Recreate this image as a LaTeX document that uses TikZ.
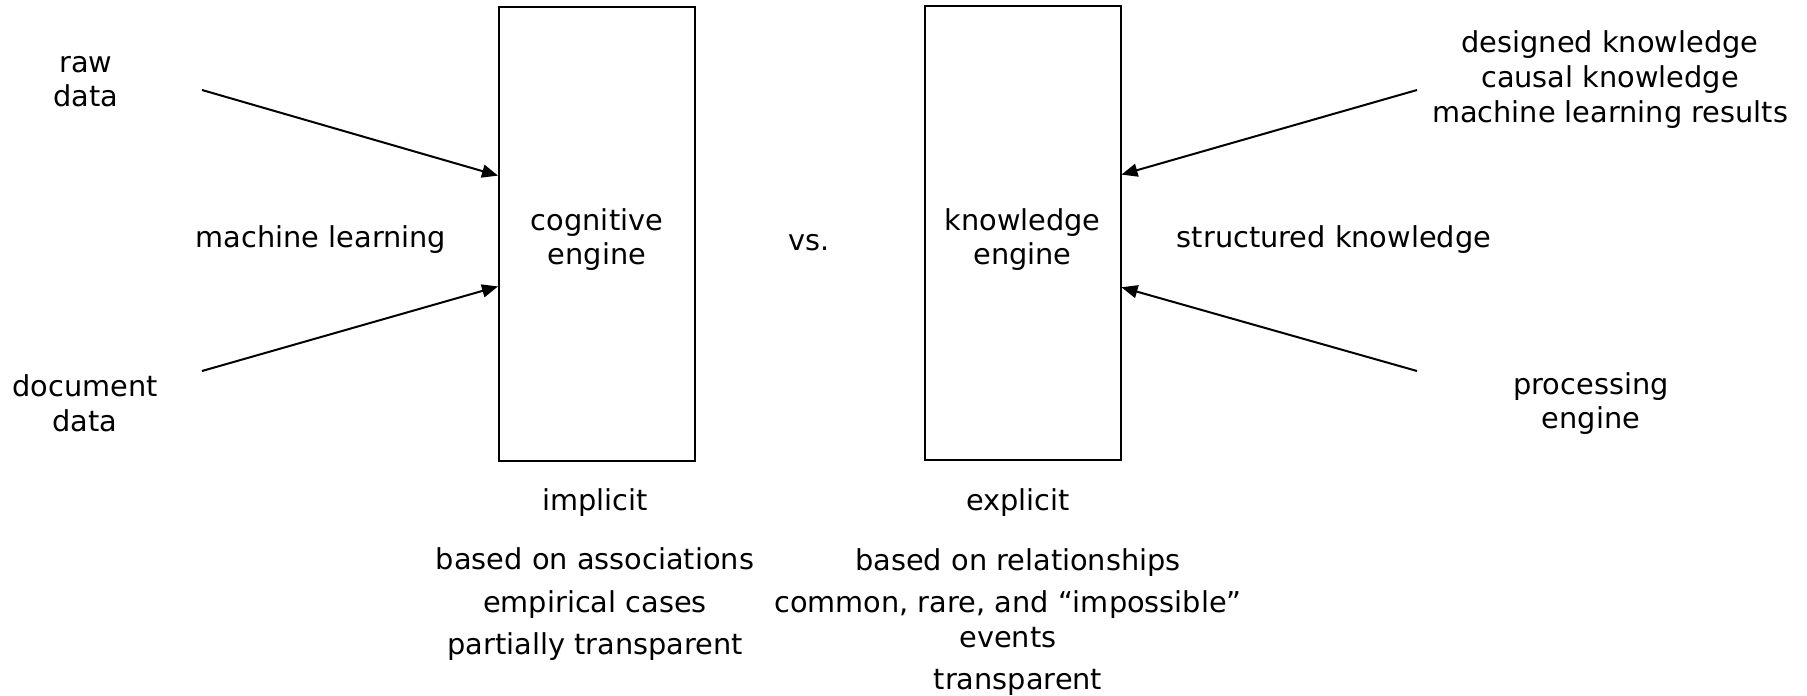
\documentclass[tikz,border=0pt]{standalone}
\usepackage{fontspec}
\setmainfont{DejaVu Sans}
\usetikzlibrary{arrows.meta,calc}
\begin{document}
\begin{tikzpicture}[x=0.5pt,y=-0.5pt,
  lbl/.style={align=center,font=\fontsize{14.4}{17.3}\selectfont,inner sep=0pt},
  engine/.style={draw,line width=1pt,minimum width=98pt,minimum height=227pt,inner sep=0pt},
  arr/.style={line width=1pt,-{Triangle[length=8pt,width=6.5pt]}}]
\useasboundingbox (0,0) rectangle (1807,695);
% engines
\node[engine] (cog) at (597,234) {};
\node[engine] (kno) at (1022.5,233) {};
\node[lbl] (cogt) at (597,239.5) {cognitive\\engine};
\node[lbl] (knot) at (1022.5,239.5) {knowledge\\engine};
% left labels
\node[lbl] (raw) at (86,81.5) {raw\\data};
\node[lbl] (doc) at (85,403.5) {document\\data};
\node[lbl] (ml) at (321,239.5) {machine learning};
\node[lbl] (vs) at (809,242.5) {vs.};
% right labels
\node[lbl] (sk) at (1334,239.5) {structured knowledge};
\node[lbl] (dk) at (1610,79.5) {designed knowledge\\causal knowledge\\machine learning results};
\node[lbl] (pe) at (1591,403.5) {processing\\engine};
% bottom labels
\node[lbl] (imp) at (595,502.5) {implicit};
\node[lbl] (exp) at (1018,502.5) {explicit};
\node[lbl] (l1) at (595,559) {based on associations};
\node[lbl] (l2) at (595,604.5) {empirical cases};
\node[lbl] (l3) at (595,646.5) {partially transparent};
\node[lbl] (r1) at (1018,562.5) {based on relationships};
\node[lbl] (r2) at (1008,619) {common, rare, and “impossible”\\events};
\node[lbl] (r3) at (1018,682.5) {transparent};
% arrow free ends
\coordinate (s1) at (202,90);
\coordinate (s2) at (202,371);
\coordinate (s3) at (1417,90);
\coordinate (s4) at (1417,371);
\draw[arr] (s1) -- ($(cog.north west)!0.372!(cog.south west)$);
\draw[arr] (s2) -- ($(cog.north west)!0.615!(cog.south west)$);
\draw[arr] (s3) -- ($(kno.north east)!0.372!(kno.south east)$);
\draw[arr] (s4) -- ($(kno.north east)!0.619!(kno.south east)$);
\end{tikzpicture}
\end{document}
